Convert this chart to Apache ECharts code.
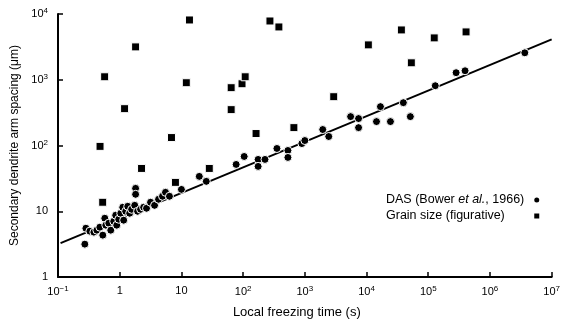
<!DOCTYPE html>
<html><head><meta charset="utf-8">
<script src="https://cdn.jsdelivr.net/npm/echarts@6/dist/echarts.min.js"></script>
<style>html,body{margin:0;padding:0;background:#fff}#c{width:563px;height:324px}</style>
</head><body><div id="c"></div>
<script>
const xTickLabels = ['10{s|−1}','1','10','10{s|2}','10{s|3}','10{s|4}','10{s|5}','10{s|6}','10{s|7}'];
const yTickLabels = ['1','10','10{s|2}','10{s|3}','10{s|4}'];

const dasName = 'DAS (Bower et al., 1966)';
const grainName = 'Grain size (figurative)';

const dasX = [0.272,0.283,0.328,0.381,0.426,0.476,0.532,0.573,0.595,0.665,0.716,0.80,0.861,0.895,0.964,1.04,1.12,1.16,1.25,1.35,1.45,1.56,1.75,1.81,1.81,1.95,2.18,2.44,2.72,3.16,3.67,4.26,4.94,5.52,6.40,10,19.5,25.3,77.1,104,175,175,226,353,532,532,895,1000,1950,2440,5520,7430,7430,14500,16800,24400,39500,51300,130000,283000,395000,3670000];
const dasY = [3.16,5.52,4.98,4.81,5.15,5.72,4.33,7.83,6.14,6.58,5.15,7.05,8.70,6.14,7.56,9.33,11.5,7.31,10,11.9,9.33,10.7,12.3,22.3,18.1,10,10.7,11.5,11.1,13.7,12.3,15.2,16.9,19.4,16.9,21.5,33.9,28.5,51.5,68.1,61.4,48.1,61.4,90.1,84.0,65.8,107,119,175,137,275,257,187,231,390,231,448,275,811,1280,1370,2570];

const grainX = [0.48,0.57,1.2,1.81,2.26,0.53,8.0,12.0,13.5,6.9,64,96,108,64,162,272,380,665,2940,10700,36700,53200,125000,410000,28.3];
const grainY = [97,1110,363,3160,44.8,13.7,27.5,901,8110,132,757,869,1110,351,152,7830,6350,187,552,3390,5720,1810,4330,5340,44.8];

const fitX = [0.11, 1e7];
const fitY = [3.27, 4110];

const FONT = 'Liberation Sans, Arial, sans-serif';
const LFS = 12.5;
const zip = (a, b) => a.map((v, i) => [v, b[i]]);

// measure DAS legend label to align legend icons
const cv = document.createElement('canvas').getContext('2d');
cv.font = LFS + 'px ' + FONT;
let w = cv.measureText('DAS (Bower ').width + cv.measureText(', 1966)').width;
cv.font = 'italic ' + LFS + 'px ' + FONT;
w += cv.measureText('et al.').width;

const chart = echarts.init(document.getElementById('c'), null, {renderer: 'canvas'});
const supRich = {s: {fontSize: 8, fontFamily: FONT, color: '#000', verticalAlign: 'bottom', padding: [0, 0, 6, 0]}};
chart.setOption({
  animation: false,
  backgroundColor: '#fff',
  grid: {left: 58, right: 7, top: 14, bottom: 46},
  legend: {
    data: [{name: dasName, icon: 'circle'}, {name: grainName, icon: 'rect'}],
    orient: 'vertical', left: 386, top: 193, align: 'right', padding: 0,
    itemWidth: 7, itemHeight: 7, itemGap: 2,
    formatter: function (n) {
      return n === dasName ? '{n|DAS (Bower }{i|et al.}{n|, 1966)}' : '{g|Grain size (figurative)}';
    },
    textStyle: {
      color: '#000', fontSize: LFS, fontFamily: FONT, lineHeight: 14, padding: [0, 4, 0, 0],
      rich: {
        n: {fontSize: LFS, fontFamily: FONT, color: '#000', lineHeight: 14},
        i: {fontSize: LFS, fontFamily: FONT, fontStyle: 'italic', color: '#000', lineHeight: 14},
        g: {fontSize: LFS, fontFamily: FONT, color: '#000', width: w, align: 'left', lineHeight: 14}
      }
    }
  },
  xAxis: {
    type: 'log', logBase: 10, min: 0.1, max: 1e7, splitNumber: 8,
    name: 'Local freezing time (s)', nameLocation: 'middle', nameGap: 29,
    nameTextStyle: {fontSize: 13, fontFamily: FONT, color: '#000', padding: [0, 16, 0, 0]},
    axisLine: {show: true, onZero: false, lineStyle: {color: '#000', width: 2}},
    axisTick: {inside: true, length: 5, lineStyle: {color: '#000', width: 1.5}},
    axisLabel: {
      interval: 0, margin: 8, fontSize: 11, fontFamily: FONT, color: '#000',
      formatter: v => xTickLabels[Math.round(Math.log10(v)) + 1], rich: supRich
    },
    splitLine: {show: false}
  },
  yAxis: {
    type: 'log', logBase: 10, min: 1, max: 1e4, splitNumber: 4,
    name: 'Secondary dendrite arm spacing (μm)', nameLocation: 'middle', nameGap: 35, nameRotate: 90,
    nameTextStyle: {fontSize: 12, fontFamily: FONT, color: '#000'},
    axisLine: {show: true, onZero: false, lineStyle: {color: '#000', width: 2}},
    axisTick: {inside: true, length: 5, lineStyle: {color: '#000', width: 1.5}},
    axisLabel: {
      interval: 0, margin: 10, fontSize: 11, fontFamily: FONT, color: '#000',
      formatter: v => yTickLabels[Math.round(Math.log10(v))], rich: supRich
    },
    splitLine: {show: false}
  },
  series: [
    {type: 'line', name: 'fit', data: zip(fitX, fitY), symbol: 'none', z: 1,
     lineStyle: {color: '#000', width: 2}, silent: true},
    {type: 'scatter', name: dasName, data: zip(dasX, dasY), symbol: 'circle', symbolSize: 8, z: 3,
     itemStyle: {color: '#000', borderColor: '#fff', borderWidth: 1, opacity: 1}},
    {type: 'scatter', name: grainName, data: zip(grainX, grainY), symbol: 'rect', symbolSize: 8, z: 3,
     itemStyle: {color: '#000', borderColor: '#fff', borderWidth: 1, opacity: 1}}
  ]
});
</script></body></html>
